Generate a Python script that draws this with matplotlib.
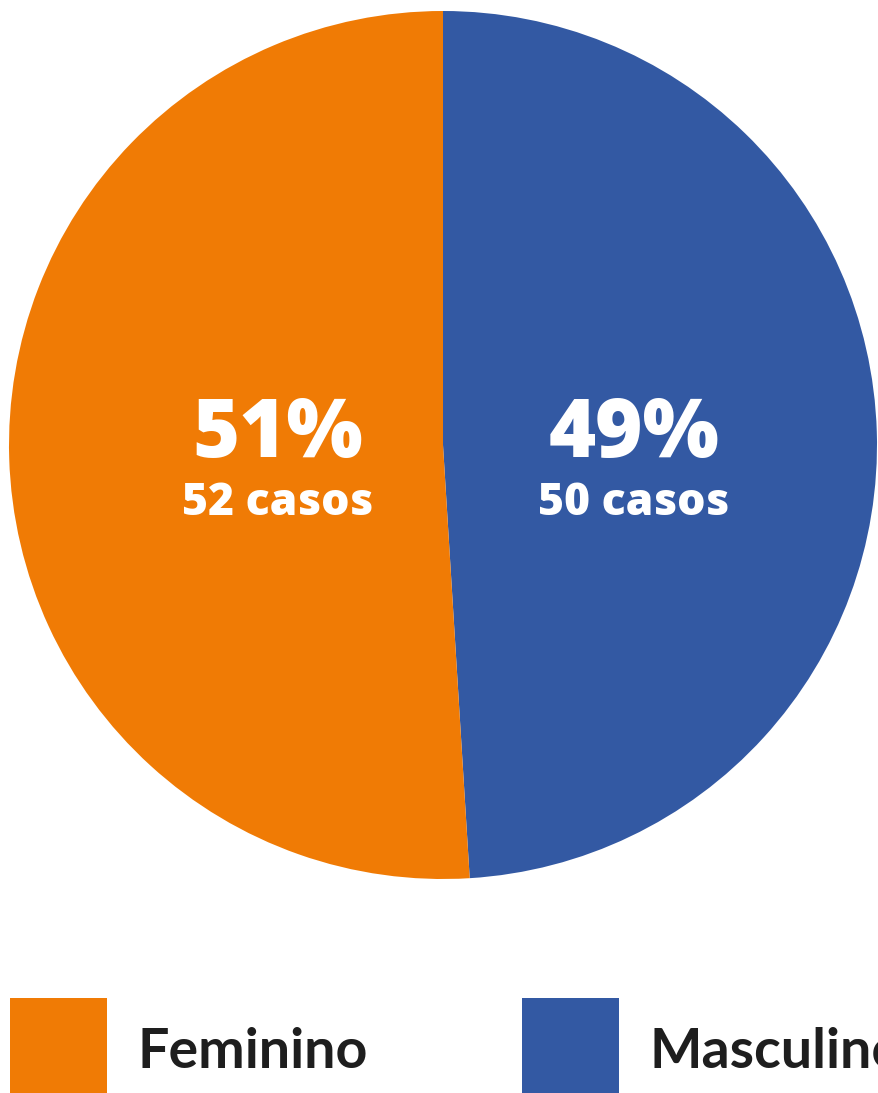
import matplotlib.pyplot as plt
from matplotlib.patches import Rectangle

# Data
categorias = ['Masculino', 'Feminino']
casos = [50, 52]
cores = ['#3359A3', '#F07B05']

# legend order as shown in the picture
legenda = ['Feminino', 'Masculino']
cores_legenda = ['#F07B05', '#3359A3']

W, H = 879, 1093
fig = plt.figure(figsize=(W / 100, H / 100), dpi=100)
fig.patch.set_facecolor('white')

# pie axes: circle centred at (443, 445) px, radius 434 px
cx, cy, r = 443, 445, 434
ax = fig.add_axes([(cx - r) / W, (H - cy - r) / H, 2 * r / W, 2 * r / H])
wedges, _ = ax.pie(casos, colors=cores, startangle=90, counterclock=False,
                   radius=1, wedgeprops=dict(linewidth=0))
ax.set_xlim(-1, 1)
ax.set_ylim(-1, 1)
ax.set_aspect('equal')
ax.axis('off')

total = sum(casos)
fonte = 'Open Sans'
pos_x = [0.44, -0.38]
for x, n in zip(pos_x, casos):
    pct = round(100 * n / total)
    ax.text(x, 0.02, f'{pct}%', ha='center', va='center', color='white',
            fontsize=58, fontweight='heavy', family=fonte)
    ax.text(x, -0.135, f'{n} casos', ha='center', va='center', color='white',
            fontsize=32, fontweight='heavy', family=fonte)

# Legend
lax = fig.add_axes([0, 0, 1, 1])
lax.set_xlim(0, W)
lax.set_ylim(H, 0)
lax.axis('off')
x_box = [10, 522]
for xb, nome, c in zip(x_box, legenda, cores_legenda):
    lax.add_patch(Rectangle((xb, 998), 97, 97, color=c, lw=0))
    lax.text(xb + 128, 1052, nome, ha='left', va='center', color='#1e1e1e',
             fontsize=40, fontweight='bold', family='Lato')

fig.savefig('out.png', dpi=100)
